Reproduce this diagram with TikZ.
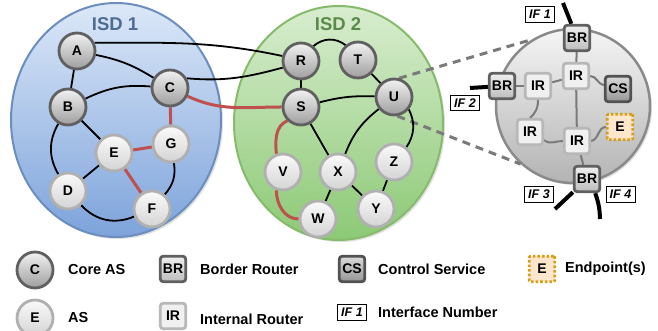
\documentclass[tikz,border=0pt]{standalone}
\usepackage{fontspec}
\setmainfont{Liberation Sans}
\usetikzlibrary{shadows}
\definecolor{coreb}{HTML}{606060}
\definecolor{coret}{HTML}{F2F2F2}
\definecolor{coreB}{HTML}{9E9E9E}
\definecolor{asb}{HTML}{B0B0B0}
\definecolor{ast}{HTML}{FAFAFA}
\definecolor{asB}{HTML}{D4D4D4}
\definecolor{isdAb}{HTML}{6B8EBF}
\definecolor{isdAt}{HTML}{DCE8F8}
\definecolor{isdAB}{HTML}{7DA3DB}
\definecolor{isdAtx}{HTML}{4E6C92}
\definecolor{isdBb}{HTML}{86BB6C}
\definecolor{isdBt}{HTML}{D8EDCF}
\definecolor{isdBB}{HTML}{8CC975}
\definecolor{isdBtx}{HTML}{5B8A4B}
\definecolor{redl}{HTML}{C0504D}
\definecolor{zcb}{HTML}{8A8A8A}
\definecolor{zct}{HTML}{F5F5F5}
\definecolor{zcB}{HTML}{B3B3B3}
\definecolor{irb}{HTML}{B8B8B8}
\definecolor{irf}{HTML}{F0F0F0}
\definecolor{brt}{HTML}{F0F0F0}
\definecolor{brB}{HTML}{BDBDBD}
\definecolor{cst}{HTML}{DADADA}
\definecolor{csB}{HTML}{959595}
\definecolor{epb}{HTML}{D4A017}
\definecolor{epf}{HTML}{FDE6CB}
\definecolor{lk}{HTML}{7A7A7A}
\pgfdeclarelayer{bg}
\pgfsetlayers{bg,main}
\begin{document}
\begin{tikzpicture}[x=1pt,y=1pt,
  core/.style={circle, draw=coreb, line width=2.8pt, top color=coret, bottom color=coreB,
    minimum size=36pt, inner sep=0pt, font=\fontsize{14}{14}\selectfont\bfseries},
  asn/.style={core, draw=asb, top color=ast, bottom color=asB},
  lnk/.style={line width=1.8pt, black},
  redlnk/.style={line width=3pt, redl},
  rbox/.style={rectangle, rounded corners=3pt, line width=2.8pt, minimum size=25.5pt,
    inner sep=0pt, font=\fontsize{14}{14}\selectfont\bfseries},
  brbox/.style={rbox, draw=coreb, top color=brt, bottom color=brB},
  irbox/.style={rbox, draw=irb, fill=irf},
  csbox/.style={rbox, draw=coreb!85!black, top color=cst, bottom color=csB},
  epbox/.style={rbox, draw=epb, fill=epf, dash pattern=on 2.6pt off 2pt, rounded corners=1pt},
  iflbl/.style={draw, line width=0.8pt, fill=white, inner sep=0pt, minimum width=29pt,
    minimum height=15.5pt, font=\fontsize{12.5}{12.5}\selectfont\bfseries\itshape},
  lgtext/.style={anchor=west, inner sep=0pt, font=\fontsize{14.5}{14.5}\selectfont\bfseries},
  zlnk/.style={line width=2pt, lk},
  thick lnk/.style={line width=4pt, black},
  dlnk/.style={line width=3pt, lk, dash pattern=on 8pt off 6pt},
  isdtxt/.style={font=\fontsize{18.5}{18.5}\selectfont\bfseries}
]
\useasboundingbox (0,0) rectangle (658,331);
% ISD 1 nodes
\node[core] (A) at (77,280) {A};
\node[core] (B) at (68,224) {B};
\node[core] (C) at (170,243) {C};
\node[asn] (E) at (114,178) {E};
\node[asn] (G) at (171,187) {G};
\node[asn] (D) at (68,140) {D};
\node[asn] (F) at (152,122) {F};
% ISD 2 nodes
\node[core] (R) at (301,270) {R};
\node[core] (T) at (358,271) {T};
\node[core] (U) at (394,234) {U};
\node[core] (S) at (301,224) {S};
\node[asn] (V) at (283,159) {V};
\node[asn] (X) at (338,159) {X};
\node[asn] (Z) at (394,169) {Z};
\node[asn] (W) at (318,112) {W};
\node[asn] (Y) at (376,122) {Y};
\node[isdtxt, text=isdAtx] (isd1) at (115,307) {ISD 1};
\node[isdtxt, text=isdBtx] (isd2) at (338,307) {ISD 2};
% zoomed AS
\node[brbox] (BRt) at (577,293) {BR};
\node[brbox] (BRl) at (502,245) {BR};
\node[brbox] (BRb) at (587,152) {BR};
\node[irbox] (IRt) at (576,255) {IR};
\node[irbox] (IRl) at (538,245) {IR};
\node[irbox] (IRll) at (530,199) {IR};
\node[irbox] (IRlc) at (577,190) {IR};
\node[csbox] (CS) at (618,242) {CS};
\node[epbox] (EP) at (620,204) {E};
\node[iflbl] (if1) at (540,316.5) {IF 1};
\node[iflbl] (if2) at (465,228) {IF 2};
\node[iflbl] (if3) at (539,136.5) {IF 3};
\node[iflbl] (if4) at (620.5,136.5) {IF 4};
\coordinate (e1) at (563,328);
\coordinate (e2) at (470,243);
\coordinate (e3) at (555,122);
\coordinate (e4) at (600,112);
% legend
\node[core] (lc) at (35,61) {C};
\node[lgtext] (lct) at (68,61) {Core AS};
\node[asn] (le) at (35,13) {E};
\node[lgtext] (let) at (68,13) {AS};
\node[brbox] (lbr) at (173,62) {BR};
\node[lgtext] (lbrt) at (200,62) {Border Router};
\node[irbox] (lir) at (173,15) {IR};
\node[lgtext] (lirt) at (200,12) {Internal Router};
\node[csbox] (lcs) at (352,62) {CS};
\node[lgtext] (lcst) at (378,62) {Control Service};
\node[epbox] (lep) at (542,62) {E};
\node[lgtext] (lept) at (565,62) {Endpoint(s)};
\node[iflbl] (lif) at (352,18.5) {IF 1};
\node[lgtext] (lift) at (378,18.5) {Interface Number};

\begin{pgfonlayer}{bg}
  \draw[draw=isdAb, line width=2pt, top color=isdAt, bottom color=isdAB,
    drop shadow={opacity=0.25, shadow xshift=2pt, shadow yshift=-2pt}]
    (116,211) ellipse [x radius=105pt, y radius=117pt];
  \draw[draw=isdBb, line width=2pt, top color=isdBt, bottom color=isdBB,
    drop shadow={opacity=0.25, shadow xshift=2pt, shadow yshift=-2pt}]
    (338.5,208) ellipse [x radius=104.5pt, y radius=117pt];
  \node[circle, draw=zcb, line width=2.5pt, top color=zct, bottom color=zcB,
    minimum size=154pt, inner sep=0pt,
    drop shadow={opacity=0.25, shadow xshift=2pt, shadow yshift=-2pt}] (zc) at (573,225) {};
  \draw[dlnk] (U.75) -- (zc.122);
  \draw[dlnk] (U.-80) -- (zc.228);
  % ISD1 edges
  \draw[lnk] (A) -- (B);
  \draw[lnk] (A) to[bend left=10] (C);
  \draw[lnk] (B) to[bend left=15] (C);
  \draw[lnk] (B) -- (E);
  \draw[lnk] (B) to[bend right=30] (D);
  \draw[lnk] (E) -- (D);
  \draw[lnk] (D) to[bend right=35] (F);
  \draw[lnk] (G) to[bend left=25] (F);
  \draw[redlnk] (C) -- (G);
  \draw[redlnk] (E) -- (G);
  \draw[redlnk] (E) -- (F);
  % inter-ISD
  \draw[lnk] (A.25) to[out=0, in=168] (R.165);
  \draw[lnk] (C.30) to[out=-5, in=195] (R.200);
  \draw[redlnk] (C) to[out=-25, in=180] (S);
  % ISD2 edges
  \draw[lnk] (R.50) to[bend left=40] (T.130);
  \draw[lnk] (T) -- (U);
  \draw[lnk] (R) -- (S);
  \draw[lnk] (S) to[bend left=8] (U);
  \draw[lnk] (S) -- (X);
  \draw[lnk] (U) to[bend right=15] (X);
  \draw[lnk] (U.-40) to[bend left=30] (Z.50);
  \draw[lnk] (X) -- (W);
  \draw[lnk] (X) -- (Y);
  \draw[lnk] (Z) -- (Y);
  \draw[redlnk] (S.-135) to[out=205, in=95] (V.110);
  \draw[redlnk] (V.-110) to[out=-90, in=180] (W.180);
  % zoom links
  \draw[zlnk] (BRt) -- (IRt);
  \draw[zlnk] (IRt) -- (IRlc);
  \draw[zlnk] (IRlc) -- (BRb);
  \draw[zlnk] (BRl) -- (IRl);
  \draw[zlnk] (IRl) -- (IRt);
  \draw[zlnk] (IRt.east) to[out=0, in=170] (CS.165);
  \draw[zlnk] (IRl.south) to[bend left=25] (IRll.north);
  \draw[zlnk] (IRll.-30) to[out=-40, in=180] (IRlc.west);
  \draw[zlnk] (IRlc.east) to[out=10, in=180] (EP.west);
  \draw[thick lnk] (e1) -- (BRt);
  \draw[thick lnk] (e2) -- (BRl);
  \draw[thick lnk] (e3) -- (BRb);
  \draw[thick lnk] (BRb.-60) to[out=-70, in=92] (e4);
\end{pgfonlayer}
\end{tikzpicture}
\end{document}
